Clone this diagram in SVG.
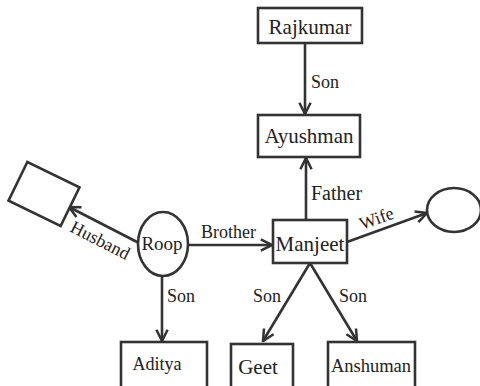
<svg xmlns="http://www.w3.org/2000/svg" width="480" height="386" viewBox="0 0 480 386">
  <style>
    .box { fill: #fff; stroke: #333; stroke-width: 2.6; }
    .edge { fill: none; stroke: #333; stroke-width: 2.6; marker-end: url(#arrow); }
    .name { font-family: "Liberation Serif", "Times New Roman", serif; fill: #222; text-anchor: middle; }
    .lbl { font-family: "Liberation Serif", "Times New Roman", serif; fill: #222; font-size: 18px; }
  </style>
  <defs>
    <marker id="arrow" viewBox="0 0 10 10" refX="9" refY="5" markerWidth="14" markerHeight="14" markerUnits="userSpaceOnUse" orient="auto">
      <path d="M1,1 L9,5 L1,9" fill="none" stroke="#333" stroke-width="1.8"/>
    </marker>
  </defs>
  <rect width="480" height="386" fill="#fff"/>

  <!-- connectors -->
  <g id="edges">
    <line class="edge" x1="305" y1="43" x2="305" y2="114"/>
    <text class="lbl" x="311" y="88">Son</text>
    <line class="edge" x1="306" y1="220" x2="306" y2="158"/>
    <text class="lbl" x="311" y="200" style="font-size:20px">Father</text>
    <line class="edge" x1="188" y1="245" x2="272" y2="245"/>
    <text class="lbl" x="201" y="238">Brother</text>
    <line class="edge" x1="347" y1="242" x2="427" y2="213"/>
    <text class="lbl" x="0" y="0" transform="translate(362,230) rotate(-20)">Wife</text>
    <line class="edge" x1="139" y1="243" x2="69" y2="207"/>
    <text class="lbl" x="0" y="0" transform="translate(69,231) rotate(27)">Husband</text>
    <line class="edge" x1="162" y1="276" x2="162" y2="341"/>
    <text class="lbl" x="167" y="302">Son</text>
    <line class="edge" x1="310" y1="263" x2="263" y2="341"/>
    <text class="lbl" x="253" y="302">Son</text>
    <line class="edge" x1="310" y1="263" x2="357" y2="341"/>
    <text class="lbl" x="339" y="302">Son</text>
  </g>

  <g id="rajkumar">
    <rect class="box" x="258" y="8" width="104" height="35"/>
    <text class="name" x="310" y="34" font-size="21">Rajkumar</text>
  </g>
  <g id="ayushman">
    <rect class="box" x="258" y="115" width="102" height="42"/>
    <text class="name" x="309" y="143" font-size="21">Ayushman</text>
  </g>
  <g id="manjeet">
    <rect class="box" x="273" y="220" width="74" height="43"/>
    <text class="name" x="310" y="251" font-size="21">Manjeet</text>
  </g>
  <g id="wife">
    <ellipse class="box" cx="454" cy="210" rx="27" ry="22"/>
  </g>
  <g id="roop">
    <ellipse class="box" cx="163" cy="244" rx="25" ry="32"/>
    <text class="name" x="162" y="250" font-size="19">Roop</text>
  </g>
  <g id="husband">
    <rect class="box" x="-29" y="-21.5" width="58" height="43" transform="translate(44,194) rotate(26)"/>
  </g>
  <g id="aditya">
    <rect class="box" x="121" y="342" width="86" height="46"/>
    <text class="name" x="157" y="370" font-size="18">Aditya</text>
  </g>
  <g id="geet">
    <rect class="box" x="231" y="344" width="62" height="44"/>
    <text class="name" x="258" y="374" font-size="21">Geet</text>
  </g>
  <g id="anshuman">
    <rect class="box" x="328" y="342" width="87" height="46"/>
    <text class="name" x="371" y="372" font-size="18.5">Anshuman</text>
  </g>
</svg>
